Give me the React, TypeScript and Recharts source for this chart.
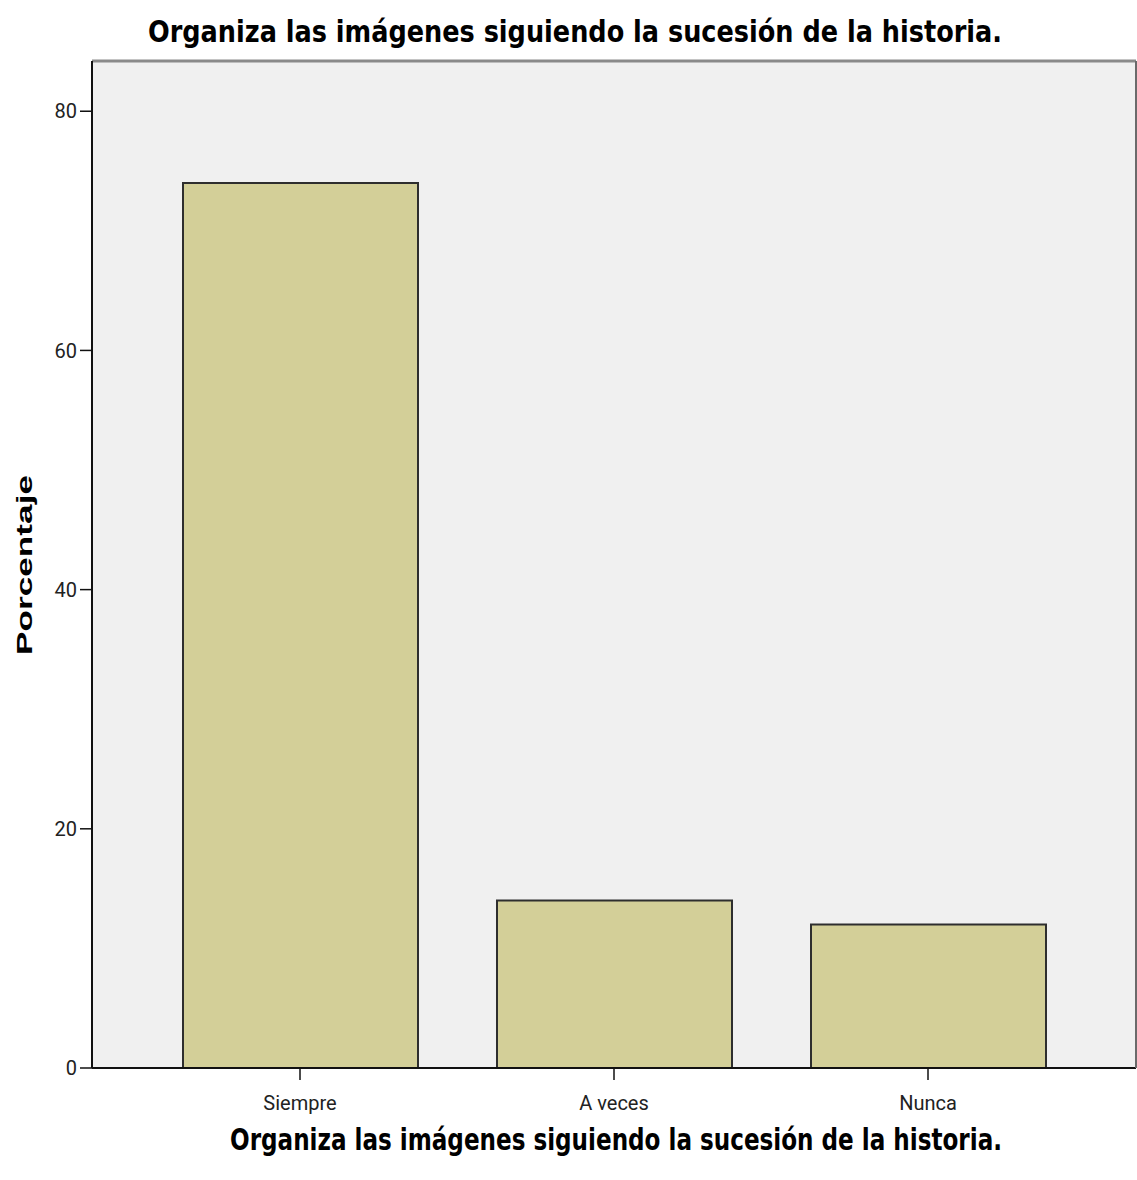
import { BarChart, Bar, XAxis, YAxis, CartesianGrid } from "recharts";

const categories = ["Siempre", "A veces", "Nunca"];
const percentages = [74, 14, 12];
const yTicks = [0, 20, 40, 60, 80];
const titleText = "Organiza las imágenes siguiendo la sucesión de la historia.";
const yLabelText = "Porcentaje";

const data = categories.map((name, i) => ({ name, value: percentages[i] }));

const narrow = "'Liberation Sans Narrow', 'Arial Narrow', 'DejaVu Sans Condensed', sans-serif";
const tickFont = "Roboto, 'Liberation Sans', sans-serif";
const wide = "'Liberation Sans', Arial, sans-serif";

export default function App() {
  return (
    <div style={{ position: "absolute", left: 0, top: 0, width: 1137, height: 1180, background: "#fff" }}>
      <BarChart
        width={1137}
        height={1180}
        data={data}
        margin={{ top: 60, right: 0, left: 0, bottom: 72 }}
        barSize={235}
      >
        <CartesianGrid horizontal={false} vertical={false} fill="#f0f0f0" />
        <XAxis
          dataKey="name"
          xAxisId="bottom"
          height={40}
          padding={{ left: 51, right: 51 }}
          tickSize={12}
          tickMargin={16}
          axisLine={{ stroke: "#111", strokeWidth: 2 }}
          tickLine={{ stroke: "#111", strokeWidth: 1.5 }}
          tick={{ fill: "#222", fontSize: 20, fontFamily: tickFont }}
        />
        <XAxis
          dataKey="name"
          xAxisId="top"
          orientation="top"
          height={1}
          padding={{ left: 51, right: 51 }}
          tick={false}
          tickLine={false}
          axisLine={{ stroke: "#8a8a8a", strokeWidth: 3 }}
        />
        <YAxis
          yAxisId="left"
          width={92}
          domain={[0, 84.2]}
          ticks={yTicks}
          tickSize={12}
          tickMargin={3}
          axisLine={{ stroke: "#111", strokeWidth: 2 }}
          tickLine={{ stroke: "#111", strokeWidth: 1.5 }}
          tick={{ fill: "#222", fontSize: 20, fontFamily: tickFont }}
        />
        <YAxis
          yAxisId="right"
          orientation="right"
          width={1}
          domain={[0, 84.2]}
          tick={false}
          tickLine={false}
          axisLine={{ stroke: "#6a6a6a", strokeWidth: 2 }}
        />
        <Bar
          dataKey="value"
          xAxisId="bottom"
          yAxisId="left"
          fill="#d3cf98"
          stroke="#2e2e2e"
          strokeWidth={2}
          isAnimationActive={false}
        />
        <text
          x={575}
          y={42}
          textAnchor="middle"
          fontFamily={narrow}
          fontWeight="bold"
          fontSize={30}
          fill="#000"
          textLength={854}
          lengthAdjust="spacingAndGlyphs"
        >
          {titleText}
        </text>
        <text
          x={616}
          y={1150}
          textAnchor="middle"
          fontFamily={narrow}
          fontWeight="bold"
          fontSize={30}
          fill="#000"
          textLength={772}
          lengthAdjust="spacingAndGlyphs"
        >
          {titleText}
        </text>
        <text
          x={32}
          y={565}
          transform="rotate(-90 32 565)"
          textAnchor="middle"
          fontFamily={wide}
          fontWeight="bold"
          fontSize={22}
          fill="#000"
          textLength={180}
          lengthAdjust="spacingAndGlyphs"
        >
          {yLabelText}
        </text>
      </BarChart>
    </div>
  );
}
